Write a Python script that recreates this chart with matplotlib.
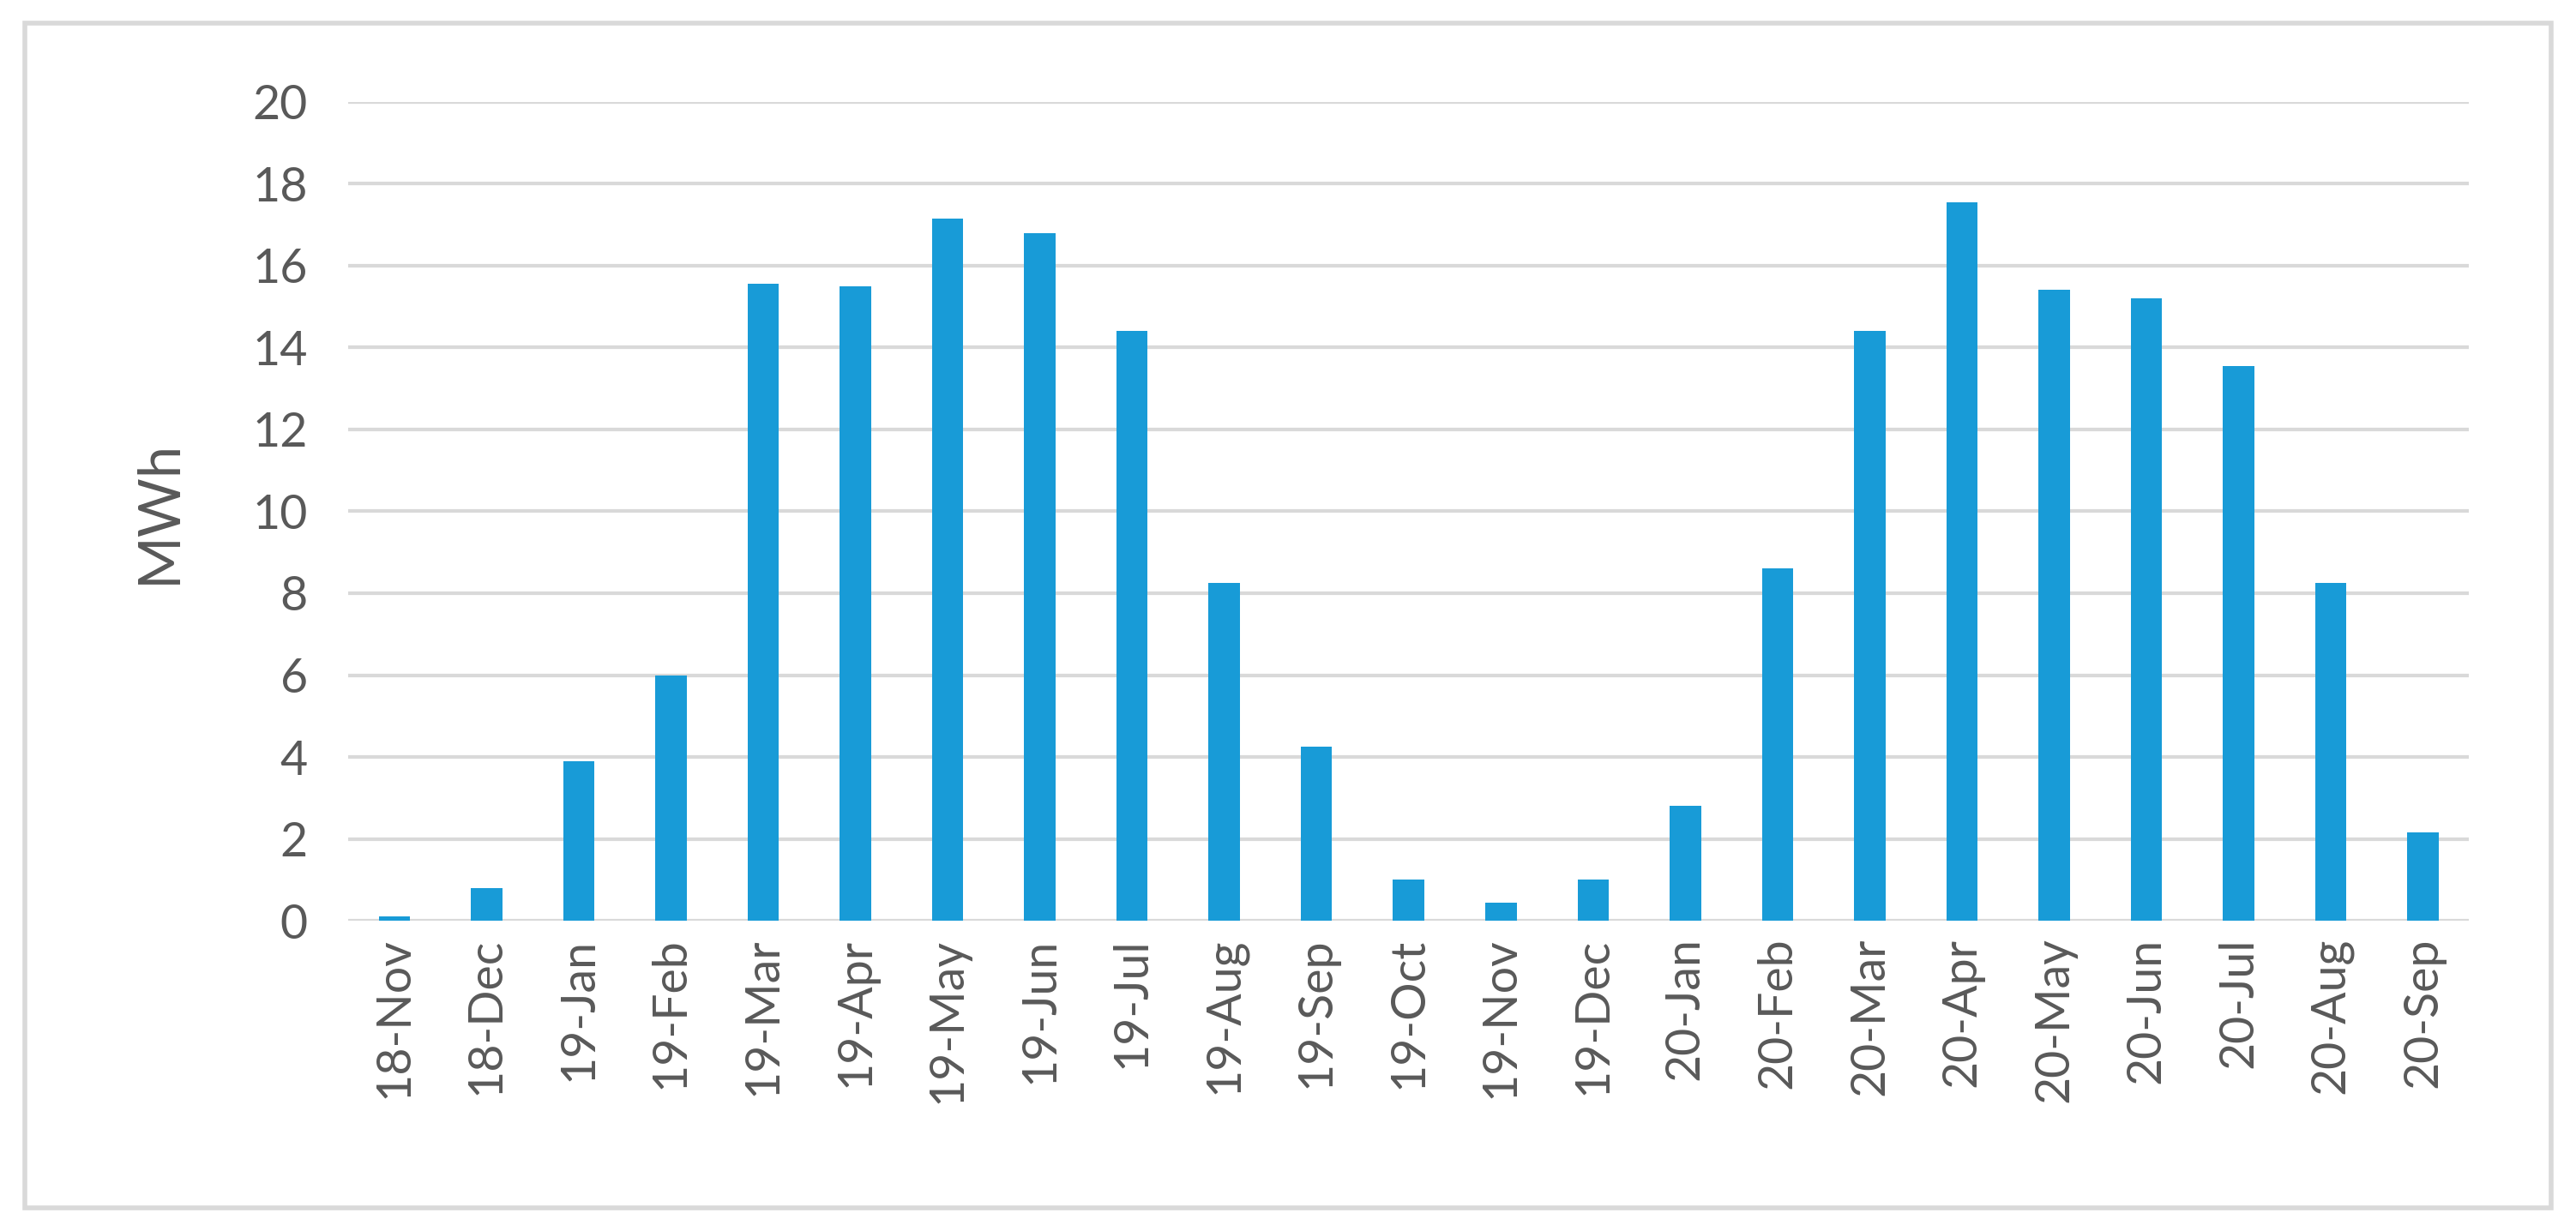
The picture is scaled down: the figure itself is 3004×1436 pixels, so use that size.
import matplotlib.pyplot as plt
from matplotlib.patches import Rectangle

# Données mensuelles (MWh)
months = ['18-Nov', '18-Dec', '19-Jan', '19-Feb', '19-Mar', '19-Apr', '19-May',
          '19-Jun', '19-Jul', '19-Aug', '19-Sep', '19-Oct', '19-Nov', '19-Dec',
          '20-Jan', '20-Feb', '20-Mar', '20-Apr', '20-May', '20-Jun', '20-Jul',
          '20-Aug', '20-Sep']
energy = [0.1, 0.8, 3.9, 6.0, 15.55, 15.5, 17.15, 16.8, 14.4, 8.25, 4.25, 1.0,
          0.45, 1.0, 2.8, 8.6, 14.4, 17.55, 15.4, 15.2, 13.55, 8.25, 2.15]
y_ticks = [0, 2, 4, 6, 8, 10, 12, 14, 16, 18, 20]

plt.rcParams['font.family'] = ['Lato', 'DejaVu Sans']
text_color = '#595959'
grid_color = '#d9d9d9'

fig = plt.figure(figsize=(30.04, 14.36), dpi=100)
ax = fig.add_axes([0.1352, 0.252, 0.8233, 0.6653])

x = list(range(len(months)))
ax.bar(x, energy, width=0.34, color='#189bd7', zorder=3)

ax.set_xlim(-0.5, len(months) - 0.5)
ax.set_ylim(0, 20)
ax.set_yticks(y_ticks)
ax.set_yticklabels([str(t) for t in y_ticks])
ax.set_xticks(x)
ax.set_xticklabels(months, rotation=90)
ax.tick_params(axis='both', length=0, labelsize=40, labelcolor=text_color)
ax.tick_params(axis='y', pad=34)
ax.tick_params(axis='x', pad=14)

ax.grid(axis='y', color=grid_color, linewidth=3, zorder=0)
for s in ax.spines.values():
    s.set_visible(False)

ax.set_ylabel('MWh', fontsize=48, color=text_color, labelpad=56)

# Cadre autour du graphique
frame = Rectangle((15 / 1568, 1 - 736 / 750), (1553 - 15) / 1568, (736 - 14) / 750,
                  transform=fig.transFigure, fill=False, edgecolor=grid_color,
                  linewidth=4)
fig.patches.append(frame)

plt.savefig('out.png', dpi=100)
